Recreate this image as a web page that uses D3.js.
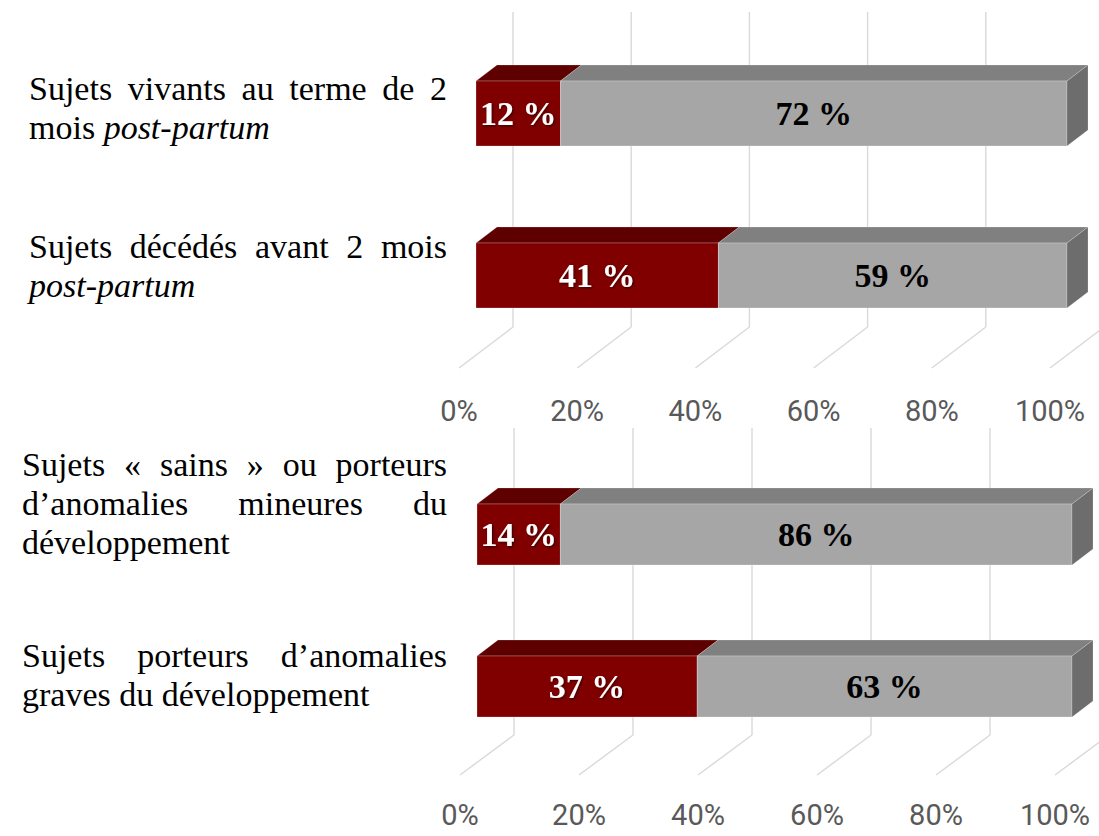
<!DOCTYPE html>
<html>
<head>
<meta charset="utf-8">
<script src="https://cdn.jsdelivr.net/npm/d3@7"></script>
<style>
  html, body { margin: 0; padding: 0; background: #ffffff; }
  svg { display: block; }
</style>
</head>
<body>
<svg id="chart" width="1099" height="836"></svg>
<script>
// ---- data -------------------------------------------------------------
const rowIds = ["vivants", "decedes", "sains", "graves"];
const panelOfRow = [0, 0, 1, 1];
// category labels, one entry per line; _text_ marks italic words
const labelLines = [
  ["Sujets vivants au terme de 2", "mois _post-partum_"],
  ["Sujets décédés avant 2 mois", "_post-partum_"],
  ["Sujets « sains » ou porteurs", "d’anomalies mineures du", "développement"],
  ["Sujets porteurs d’anomalies", "graves du développement"]
];
const redValues  = [12, 41, 14, 37];
const greyValues = [72, 59, 86, 63];
const tickValues = [0, 0.2, 0.4, 0.6, 0.8, 1];
const tickLabels = ["0%", "20%", "40%", "60%", "80%", "100%"];

// ---- layout -----------------------------------------------------------
const panels = [
  { rows: [0, 1], xRange: [476, 1067], firstBarTop: 81, step: 162, barH: 65,
    wallTop: 12, floorBackY: 327, floorFrontY: 368, tickBaseline: 421,
    labelLeft: 29, labelRight: 447, labelBaselines: [100, 258] },
  { rows: [2, 3], xRange: [477, 1072], firstBarTop: 504, step: 152, barH: 61,
    wallTop: 428, floorBackY: 735, floorFrontY: 775, tickBaseline: 825,
    labelLeft: 22, labelRight: 447, labelBaselines: [476, 667] }
];
const barDepth = { dx: 21, dy: -16 };   // front face -> back face of a bar
const floorShift = -17;                  // bar front -> floor front edge (x)
const wallShift = 37;                    // bar front -> back wall (x)
const lineH = 39;

const colors = {
  red:  { front: "#800000", top: "#5f0000", side: "#4f0000", text: "#ffffff" },
  grey: { front: "#a6a6a6", top: "#808080", side: "#6d6d6d", text: "#000000" }
};

const svg = d3.select("#chart");
const defs = svg.append("defs");
const shadow = defs.append("filter").attr("id", "txtShadow")
  .attr("x", "-20%").attr("y", "-20%").attr("width", "140%").attr("height", "140%");
shadow.append("feDropShadow").attr("dx", 1.2).attr("dy", 1.2)
  .attr("stdDeviation", 1).attr("flood-color", "#000").attr("flood-opacity", 0.55);

// 100 % stacked layout
const table = rowIds.map((id, i) => ({ id, red: redValues[i], grey: greyValues[i] }));
const series = d3.stack().keys(["red", "grey"]).offset(d3.stackOffsetExpand)(table);

panels.forEach(p => {
  const g = svg.append("g");
  const x = d3.scaleLinear().domain([0, 1]).range(p.xRange);
  const ids = p.rows.map(r => rowIds[r]);
  const pi = 1 - p.barH / p.step, po = 0.3;
  const y0 = p.firstBarTop - po * p.step;
  const y = d3.scaleBand().domain(ids)
    .range([y0, y0 + p.step * (ids.length - pi + 2 * po)])
    .paddingInner(pi).paddingOuter(po);

  // back wall gridlines and floor lines
  const grid = g.append("g").attr("stroke", "#d9d9d9").attr("stroke-width", 1.4).attr("fill", "none");
  grid.selectAll("line.wall").data(tickValues).join("line")
    .attr("class", "wall")
    .attr("x1", d => x(d) + wallShift).attr("x2", d => x(d) + wallShift)
    .attr("y1", p.wallTop).attr("y2", p.floorBackY);
  grid.selectAll("line.floor").data(tickValues).join("line")
    .attr("class", "floor")
    .attr("x1", d => x(d) + wallShift).attr("y1", p.floorBackY)
    .attr("x2", d => x(d) + floorShift).attr("y2", p.floorFrontY);

  // tick labels
  g.append("g").selectAll("text").data(tickValues).join("text")
    .attr("x", d => x(d) + floorShift).attr("y", p.tickBaseline)
    .attr("text-anchor", "middle")
    .attr("font-family", "Roboto, 'Open Sans', sans-serif")
    .attr("font-size", 29).attr("fill", "#595959")
    .text((d, i) => tickLabels[i]);

  // bars
  p.rows.forEach(r => {
    const id = rowIds[r];
    const top = y(id), h = y.bandwidth();
    const bar = g.append("g");
    const segs = series.map(s => ({ key: s.key, a: s[r][0], b: s[r][1], raw: s[r].data[s.key] }));
    segs.forEach((s, si) => {
      const x0 = x(s.a), x1 = x(s.b), c = colors[s.key];
      bar.append("polygon")
        .attr("points", [[x0, top], [x1, top], [x1 + barDepth.dx, top + barDepth.dy], [x0 + barDepth.dx, top + barDepth.dy]].join(" "))
        .attr("fill", c.top).attr("stroke", "rgba(255,255,255,0.25)").attr("stroke-width", 0.8);
      bar.append("rect")
        .attr("x", x0).attr("y", top).attr("width", x1 - x0).attr("height", h)
        .attr("fill", c.front).attr("stroke", "rgba(255,255,255,0.3)").attr("stroke-width", 0.8);
      if (si === segs.length - 1) {
        bar.append("polygon")
          .attr("points", [[x1, top], [x1 + barDepth.dx, top + barDepth.dy], [x1 + barDepth.dx, top + h + barDepth.dy], [x1, top + h]].join(" "))
          .attr("fill", c.side).attr("stroke", "rgba(255,255,255,0.25)").attr("stroke-width", 0.8);
      }
    });
    segs.forEach(s => {
      const c = colors[s.key];
      bar.append("text")
        .attr("x", (x(s.a) + x(s.b)) / 2).attr("y", top + h / 2)
        .attr("dy", "0.35em").attr("text-anchor", "middle")
        .attr("font-family", "'Liberation Serif', 'Times New Roman', serif")
        .attr("font-weight", "bold").attr("font-size", 34)
        .attr("fill", c.text)
        .attr("filter", s.key === "red" ? "url(#txtShadow)" : null)
        .text(`${s.raw} %`);
    });
  });

  // justified category labels
  const measureText = svg.append("text")
    .attr("font-family", "'Liberation Serif', 'Times New Roman', serif")
    .attr("font-size", 34).attr("visibility", "hidden");
  const measure = (t, it) => {
    measureText.attr("font-style", it ? "italic" : "normal").text(t);
    return measureText.node().getComputedTextLength();
  };
  const spaceW = measure("a a", false) - measure("aa", false);

  p.rows.forEach((r, k) => {
    const lines = labelLines[r];
    const txt = g.append("text")
      .attr("font-family", "'Liberation Serif', 'Times New Roman', serif")
      .attr("font-size", 34).attr("fill", "#000");
    lines.forEach((line, li) => {
      const words = line.split(" ").map(w => {
        const it = /^_.*_$/.test(w);
        return { t: it ? w.slice(1, -1) : w, it };
      });
      words.forEach(w => { w.w = measure(w.t, w.it); });
      const total = d3.sum(words, w => w.w);
      const last = li === lines.length - 1;
      const gap = (last || words.length < 2) ? spaceW
        : (p.labelRight - p.labelLeft - total) / (words.length - 1);
      let cx = p.labelLeft;
      words.forEach(w => {
        txt.append("tspan")
          .attr("x", cx).attr("y", p.labelBaselines[k] + li * lineH)
          .attr("font-style", w.it ? "italic" : "normal")
          .text(w.t);
        cx += w.w + gap;
      });
    });
  });
  measureText.remove();
});
</script>
</body>
</html>
